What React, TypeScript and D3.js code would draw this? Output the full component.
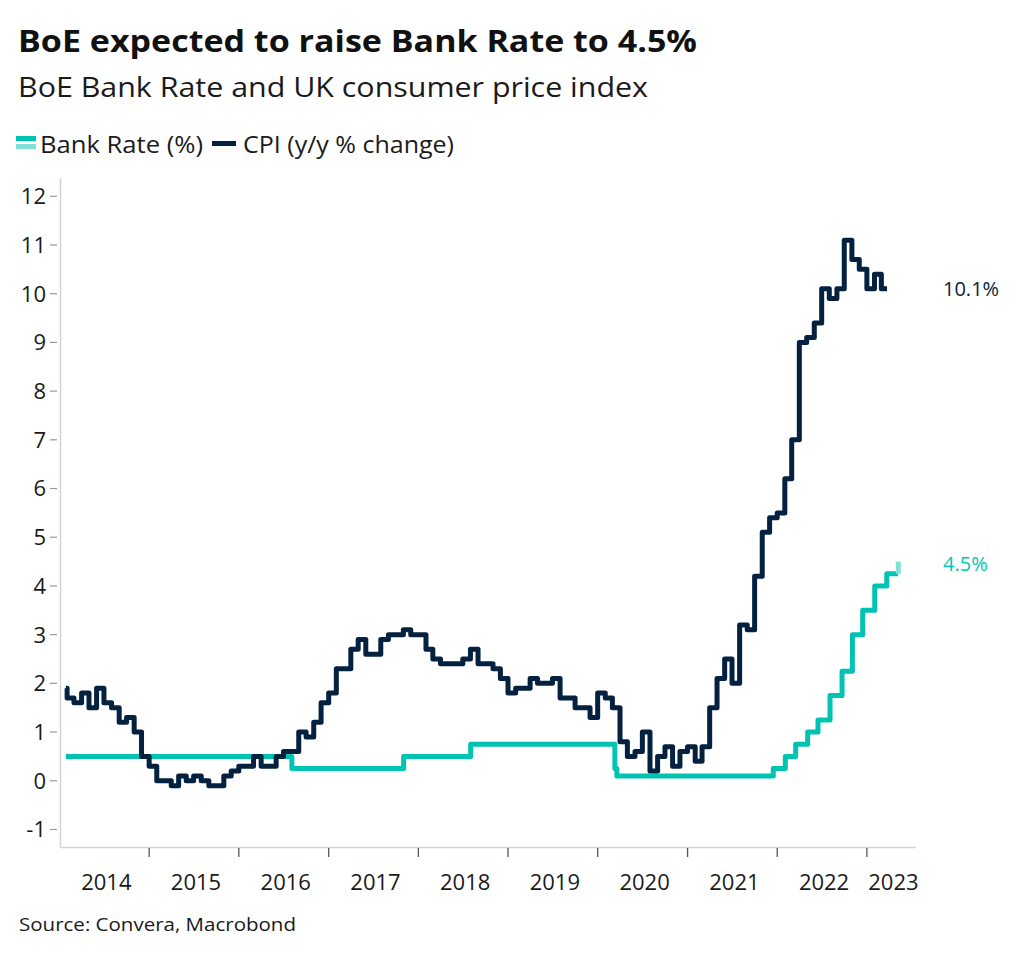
import React from "react";
import * as d3 from "d3";

// ---------- DATA ----------
const cpiFirstMonth = "2014-01";
const cpi2014 = [1.9, 1.7, 1.6, 1.8, 1.5, 1.9, 1.6, 1.5, 1.2, 1.3, 1.0, 0.5];
const cpi2015 = [0.3, 0.0, 0.0, -0.1, 0.1, 0.0, 0.1, 0.0, -0.1, -0.1, 0.1, 0.2];
const cpi2016 = [0.3, 0.3, 0.5, 0.3, 0.3, 0.5, 0.6, 0.6, 1.0, 0.9, 1.2, 1.6];
const cpi2017 = [1.8, 2.3, 2.3, 2.7, 2.9, 2.6, 2.6, 2.9, 3.0, 3.0, 3.1, 3.0];
const cpi2018 = [3.0, 2.7, 2.5, 2.4, 2.4, 2.4, 2.5, 2.7, 2.4, 2.4, 2.3, 2.1];
const cpi2019 = [1.8, 1.9, 1.9, 2.1, 2.0, 2.0, 2.1, 1.7, 1.7, 1.5, 1.5, 1.3];
const cpi2020 = [1.8, 1.7, 1.5, 0.8, 0.5, 0.6, 1.0, 0.2, 0.5, 0.7, 0.3, 0.6];
const cpi2021 = [0.7, 0.4, 0.7, 1.5, 2.1, 2.5, 2.0, 3.2, 3.1, 4.2, 5.1, 5.4];
const cpi2022 = [5.5, 6.2, 7.0, 9.0, 9.1, 9.4, 10.1, 9.9, 10.1, 11.1, 10.7, 10.5];
const cpi2023 = [10.1, 10.4, 10.1];
const cpiValues = [
  ...cpi2014, ...cpi2015, ...cpi2016, ...cpi2017, ...cpi2018,
  ...cpi2019, ...cpi2020, ...cpi2021, ...cpi2022, ...cpi2023,
];
const seriesStart = "2014-01-27";
const cpiEnd = "2023-03-24";

const bankRateDates = [
  "2014-01-27", "2016-08-04", "2017-11-02", "2018-08-02", "2020-03-11",
  "2020-03-19", "2021-12-16", "2022-02-03", "2022-03-17", "2022-05-05",
  "2022-06-16", "2022-08-04", "2022-09-22", "2022-11-03", "2022-12-15",
  "2023-02-02", "2023-03-23", "2023-05-08",
];
const bankRateValues = [
  0.5, 0.25, 0.5, 0.75, 0.25, 0.1, 0.25, 0.5, 0.75, 1.0, 1.25, 1.75, 2.25,
  3.0, 3.5, 4.0, 4.25, 4.25,
];
const forecastDates = ["2023-05-09", "2023-05-09"];
const forecastValues = [4.25, 4.5];

const yTicks = [-1, 0, 1, 2, 3, 4, 5, 6, 7, 8, 9, 10, 11, 12];
const yearLabels = ["2014", "2015", "2016", "2017", "2018", "2019", "2020", "2021", "2022", "2023"];

const title = "BoE expected to raise Bank Rate to 4.5%";
const subtitle = "BoE Bank Rate and UK consumer price index";
const legendBank = "Bank Rate (%)";
const legendCpi = "CPI (y/y % change)";
const source = "Source: Convera, Macrobond";
const cpiEndLabel = "10.1%";
const bankEndLabel = "4.5%";

// ---------- STYLE ----------
const NAVY = "#04223f";
const TEAL = "#00c4b1";
const TEAL_LIGHT = "#80e1d7";
const FONT = "'Open Sans', 'Noto Sans', sans-serif";

type Pt = { d: Date; v: number };

export default function App() {
  const parse = d3.timeParse("%Y-%m-%d");
  const parseM = d3.timeParse("%Y-%m");
  const x = d3
    .scaleTime()
    .domain([new Date(2014, 0, 1), new Date(2023, 6, 20)])
    .range([59.5, 916]);
  const y = d3.scaleLinear().domain([-1.36, 12.38]).range([847, 177.8]);

  const m0 = parseM(cpiFirstMonth) as Date;
  const cpiPts: Pt[] = cpiValues.map((v, i) => ({ d: d3.timeMonth.offset(m0, i), v }));
  cpiPts[0] = { d: parse(seriesStart) as Date, v: cpiPts[0].v };
  cpiPts.push({ d: parse(cpiEnd) as Date, v: cpiValues[cpiValues.length - 1] });

  const bankPts: Pt[] = bankRateDates.map((s, i) => ({ d: parse(s) as Date, v: bankRateValues[i] }));
  const fcPts: Pt[] = forecastDates.map((s, i) => ({ d: parse(s) as Date, v: forecastValues[i] }));

  const line = d3
    .line<Pt>()
    .x((p) => x(p.d))
    .y((p) => y(p.v))
    .curve(d3.curveStepAfter);

  const yearTicks = d3.range(2015, 2024).map((yr) => new Date(yr, 0, 1));
  const [x0, x1] = x.range();
  const yearCenters = yearLabels.map((s) => {
    const yr = +s;
    const a = Math.max(x(new Date(yr, 0, 1)), x0);
    const b = Math.min(x(new Date(yr + 1, 0, 1)), x1);
    return (a + b) / 2 + 2;
  });

  return (
    <svg
      width={1024}
      height={958}
      style={{ position: "absolute", left: 0, top: 0, background: "#fff" }}
      fontFamily={FONT}
    >
      <rect width={1024} height={958} fill="#fff" />
      <text x={18} y={52} fontSize={31} fontWeight={700} fill="#111" textLength={679} lengthAdjust="spacingAndGlyphs">
        {title}
      </text>
      <text x={18} y={97} fontSize={27} fill="#1a1a1a" textLength={630} lengthAdjust="spacingAndGlyphs">
        {subtitle}
      </text>

      {/* legend */}
      <rect x={16} y={136} width={20} height={5} fill={TEAL} />
      <rect x={16} y={144} width={20} height={5} fill={TEAL_LIGHT} />
      <text x={40} y={153} fontSize={23} fill="#1a1a1a" textLength={163} lengthAdjust="spacingAndGlyphs">
        {legendBank}
      </text>
      <rect x={212} y={141} width={24} height={5} fill={NAVY} />
      <text x={243} y={153} fontSize={23} fill="#1a1a1a" textLength={211} lengthAdjust="spacingAndGlyphs">
        {legendCpi}
      </text>

      {/* axes */}
      <line x1={60.5} x2={60.5} y1={178} y2={847.5} stroke="#d4d4d4" strokeWidth={1.5} />
      <line x1={60} x2={916} y1={847.5} y2={847.5} stroke="#d4d4d4" strokeWidth={1.5} />
      {yTicks.map((t) => (
        <g key={t}>
          <line x1={50} x2={57} y1={y(t)} y2={y(t)} stroke="#9a9a9a" strokeWidth={1.2} />
          <text x={46} y={y(t)} dy="0.36em" textAnchor="end" fontSize={22} fill="#1a1a1a">
            {t}
          </text>
        </g>
      ))}
      {yearTicks.map((d, i) => (
        <line key={i} x1={x(d)} x2={x(d)} y1={848} y2={857} stroke="#555" strokeWidth={1.3} />
      ))}
      {yearLabels.map((s, i) => (
        <text key={s} x={yearCenters[i]} y={890} textAnchor="middle" fontSize={22} fill="#1a1a1a">
          {s}
        </text>
      ))}

      {/* lines */}
      <path d={line(bankPts) || ""} fill="none" stroke={TEAL} strokeWidth={5} strokeLinejoin="round" />
      <path d={line(fcPts) || ""} fill="none" stroke={TEAL_LIGHT} strokeWidth={5} />
      <path d={line(cpiPts) || ""} fill="none" stroke={NAVY} strokeWidth={5} strokeLinejoin="round" />

      {/* end labels */}
      <text x={943} y={y(10.1)} dy="0.35em" fontSize={20} fill={NAVY}>
        {cpiEndLabel}
      </text>
      <text x={943} y={y(4.5) + 2} dy="0.35em" fontSize={20} fill={TEAL}>
        {bankEndLabel}
      </text>

      <text x={19} y={931} fontSize={19} fill="#1a1a1a" textLength={277} lengthAdjust="spacingAndGlyphs">
        {source}
      </text>
    </svg>
  );
}
